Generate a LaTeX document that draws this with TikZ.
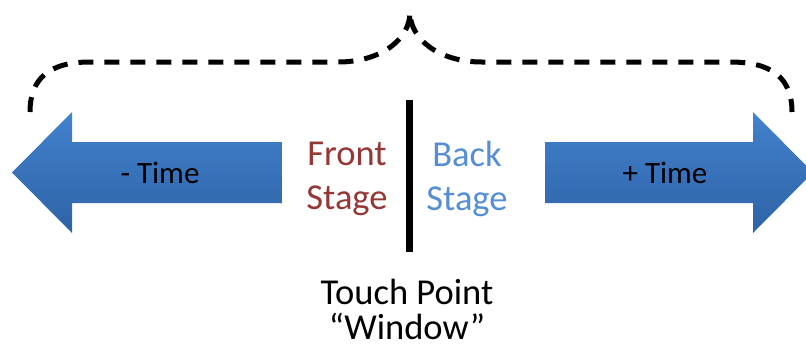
\documentclass[tikz,border=0pt]{standalone}
\usepackage{fontspec}
\setmainfont{Carlito}
\usepackage{tikz}
\definecolor{arrowtop}{RGB}{66,130,206}
\definecolor{arrowbottom}{RGB}{46,98,166}
\definecolor{frontred}{RGB}{149,55,53}
\definecolor{backblue}{RGB}{85,142,213}

\begin{document}
\begin{tikzpicture}[x = 1pt, y = -1pt, every node/.style={inner sep = 0pt, align = center},
	timearrow/.style={top color = arrowtop, bottom color = arrowbottom, draw = none},
	timetext/.style={font = \fontsize{31}{37}\selectfont, anchor = base},
	stagetext/.style={font = \fontsize{36.5}{44}\selectfont},
	bracedash/.style={line width = 5pt, dash pattern = on 15pt off 11pt}]
	
	\useasboundingbox (0,0) rectangle (806,349);
	
	% time arrows
	\shade[timearrow] (12,172.5) -- (72,112) -- (72,142) -- (282,142) -- (282,203) -- (72,203) -- (72,233) -- cycle;
	\shade[timearrow] (545,142) -- (753,142) -- (753,112) -- (813,172.5) -- (753,233) -- (753,203) -- (545,203) -- cycle;
	\node[timetext] (past) at (160,183) {- Time};
	\node[timetext] (future) at (665,183) {+ Time};
	
	% window line
	\coordinate (wtop) at (409,100);
	\coordinate (wbot) at (409,252);
	\draw[line width = 7pt] (wtop) -- (wbot);
	
	\node[stagetext, text = frontred] (front) at (347,178.5) {Front\\Stage};
	\node[stagetext, text = backblue] (back) at (467,178.5) {Back\\Stage};
	\node[font = \fontsize{36.5}{35}\selectfont] (touch) at (407,309) {Touch Point\\“Window”};
	
	% brace
	\coordinate (bleft) at (30,112);
	\coordinate (btip) at (410,12);
	\coordinate (bright) at (792,112);
	\draw[bracedash] (bleft) .. controls (30,78) and (50,62) .. (90,62) -- (338,62)
		.. controls (380,62) and (410,40) .. (btip)
		.. controls (410,40) and (440,62) .. (482,62) -- (730,62)
		.. controls (772,62) and (792,78) .. (bright);
\end{tikzpicture}
\end{document}
